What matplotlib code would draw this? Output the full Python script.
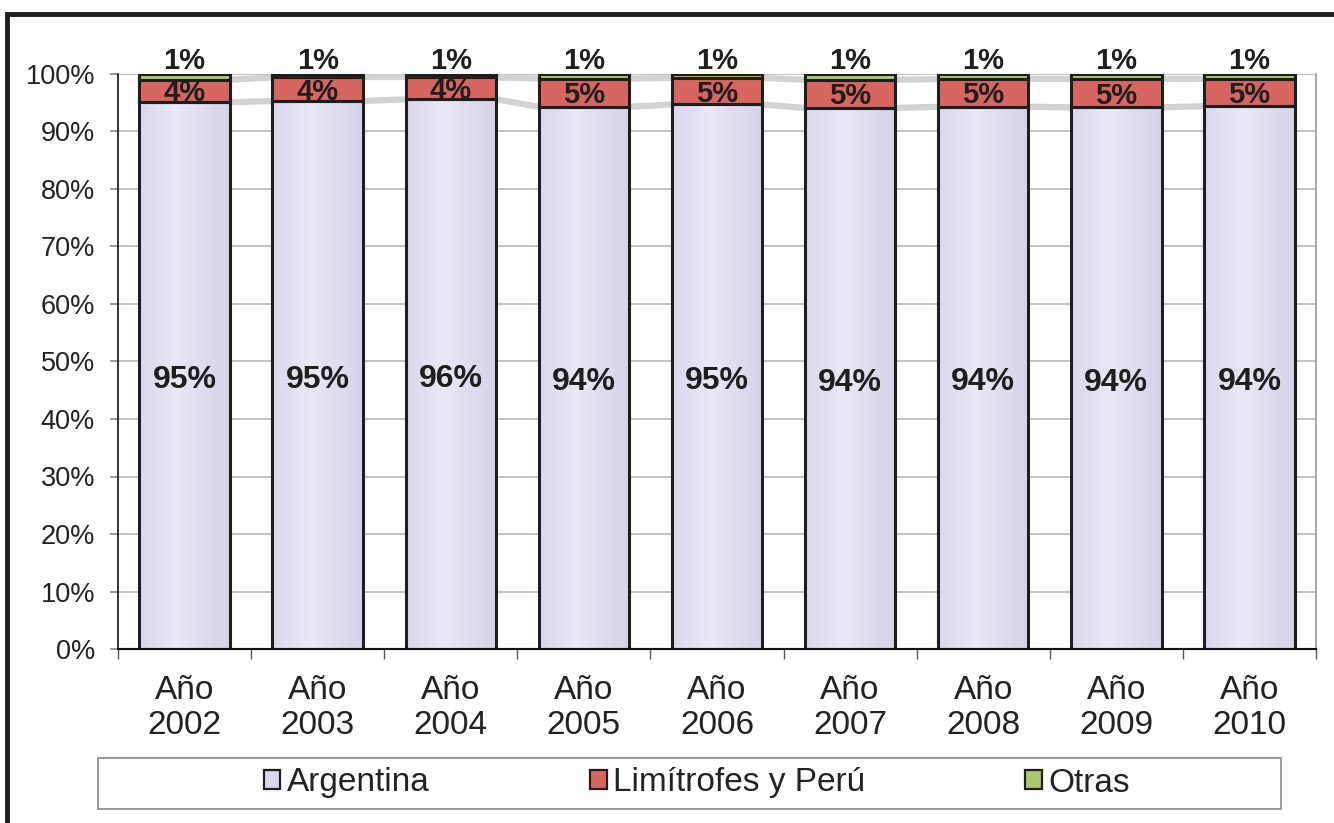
import matplotlib
matplotlib.use("Agg")
import matplotlib.pyplot as plt
import matplotlib.patches as mpatches
import numpy as np

plt.rcParams['font.family'] = ['Liberation Sans', 'DejaVu Sans']

years = ["Año\n2002", "Año\n2003", "Año\n2004", "Año\n2005", "Año\n2006",
         "Año\n2007", "Año\n2008", "Año\n2009", "Año\n2010"]
argentina = [95.1, 95.3, 95.6, 94.3, 94.7, 94.1, 94.3, 94.2, 94.4]
limitrofes = [3.9, 4.1, 3.8, 4.9, 4.6, 4.9, 4.8, 4.9, 4.7]
otras = [1.0, 0.6, 0.6, 0.8, 0.7, 1.0, 0.9, 0.9, 0.9]
series_names = ["Argentina", "Limítrofes y Perú", "Otras"]
colors = ["#dad8ee", "#d6665f", "#a8c96c"]

W, H = 1334, 823
fig = plt.figure(figsize=(W / 100, H / 100), dpi=100)
ax = fig.add_axes([118 / W, 1 - 649 / H, (1316 - 118) / W, (649 - 74) / H])

x = np.arange(len(years))
width = 0.68
data = [np.array(argentina), np.array(limitrofes), np.array(otras)]
bottoms = np.zeros(len(years))
tops = []
bar_groups = []
for vals, col, name in zip(data, colors, series_names):
    bars = ax.bar(x, vals, width, bottom=bottoms, color=col, edgecolor="none",
                  label=name, zorder=3)
    bar_groups.append(bars)
    bottoms = bottoms + vals
    tops.append(bottoms.copy())

# subtle horizontal gradient on the Argentina bars
t = np.linspace(0, 1, 200)
light = np.array([0.915, 0.912, 0.960])
dark = np.array([0.840, 0.832, 0.918])
w = np.clip(1 - np.abs(t - 0.42) / 0.58, 0, 1) ** 1.3
grad = (dark[None, :] * (1 - w[:, None]) + light[None, :] * w[:, None])[None, :, :]
for rect in bar_groups[0]:
    x0, y0 = rect.get_x(), rect.get_y()
    im = ax.imshow(grad, extent=[x0, x0 + rect.get_width(), y0, y0 + rect.get_height()],
                   aspect="auto", zorder=3.1, interpolation="bilinear")
    im.set_clip_path(rect)

# bar outlines
bottoms = np.zeros(len(years))
for vals in data:
    ax.bar(x, vals, width, bottom=bottoms, facecolor="none", edgecolor="#1e1e1e",
           linewidth=2.2, zorder=3.3)
    bottoms = bottoms + vals

# series lines
for lvl in tops[:2]:
    for i in range(len(x) - 1):
        ax.plot([x[i] + width / 2, x[i + 1] - width / 2], [lvl[i], lvl[i + 1]],
                color="#d2d2d2", lw=4.5, solid_capstyle="butt", zorder=2)

# labels
for i in range(len(x)):
    ax.text(x[i], argentina[i] / 2 - 0.8, f"{argentina[i]:.0f}%", ha="center", va="center",
            fontsize=23, fontweight="bold", color="#1e1e1e", zorder=5)
    ax.text(x[i], argentina[i] + limitrofes[i] / 2 - 0.4, f"{limitrofes[i]:.0f}%",
            ha="center", va="center", fontsize=21, fontweight="bold", color="#1e1e1e",
            zorder=5)
    ax.text(x[i], 99.8, f"{max(otras[i], 0.5):.0f}%", ha="center",
            va="bottom", fontsize=21, fontweight="bold", color="#1e1e1e", zorder=5,
            clip_on=False)

ax.set_xlim(-0.5, len(x) - 0.5)
ax.set_ylim(0, 100)
ax.set_yticks(np.arange(0, 101, 10))
ax.set_yticklabels([f"{v}%" for v in range(0, 101, 10)], fontsize=19.5, color="#222222")
ax.set_xticks(x)
ax.set_xticklabels(years, fontsize=24, color="#222222", linespacing=1.15)
ax.set_xticks(np.arange(-0.5, len(x), 1), minor=True)
ax.tick_params(axis="x", which="major", length=0, pad=19)
ax.tick_params(axis="x", which="minor", length=7, color="#555555", width=1)
ax.tick_params(axis="y", length=6, color="#888888", width=1.2, pad=10.5)
ax.yaxis.grid(True, color="#b8b8b8", lw=1.2, zorder=0)
ax.set_axisbelow(True)
ax.spines["top"].set_visible(False)
ax.spines["right"].set_color("#999999")
ax.spines["right"].set_linewidth(1.2)
ax.spines["left"].set_color("#111111")
ax.spines["bottom"].set_color("#111111")
ax.spines["left"].set_linewidth(1.2)
ax.spines["bottom"].set_linewidth(1.5)
ax.spines["left"].set_zorder(4)
ax.spines["bottom"].set_zorder(4)

# legend frame
fig.patches.append(mpatches.Rectangle((98 / W, 1 - 809 / H), (1281 - 98) / W, 51 / H,
                                      transform=fig.transFigure, fill=False,
                                      edgecolor="#888888", lw=1.2))
handles = [mpatches.Patch(facecolor=c, edgecolor="#1e1e1e", lw=1.6) for c in colors]
fig.legend(handles, series_names, loc="center", bbox_to_anchor=(697 / W, 1 - 783 / H),
           ncol=3, frameon=False, fontsize=24, handlelength=0.5, handleheight=0.5,
           handletextpad=0.2, columnspacing=4.8, labelcolor="#222222")

# outer border
fig.patches.append(mpatches.Rectangle((7 / W, -0.1), 1.2, (1 - 14.5 / H) + 0.1,
                                      transform=fig.transFigure, fill=False,
                                      edgecolor="#1e1e1e", lw=3.5))

fig.savefig("out.png", dpi=100)
